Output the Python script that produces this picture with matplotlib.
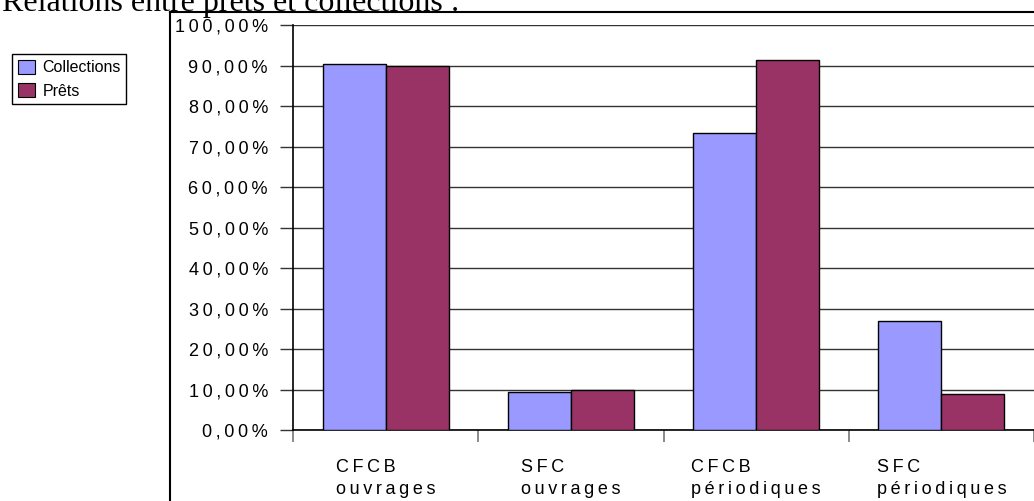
import matplotlib
matplotlib.use('Agg')
import matplotlib.pyplot as plt
from matplotlib.lines import Line2D
from matplotlib.patches import Patch

plt.rcParams['font.family'] = ['Liberation Sans', 'DejaVu Sans']

# Data (percent)
categories = [('CFCB', 'ouvrages'), ('SFC', 'ouvrages'),
              ('CFCB', 'périodiques'), ('SFC', 'périodiques')]
collections = [90.5, 9.5, 73.4, 26.9]
prets = [90.0, 10.0, 91.5, 9.0]
series_names = ['Collections', 'Prêts']
y_ticks = [0, 10, 20, 30, 40, 50, 60, 70, 80, 90, 100]

col_color = '#9999FF'
pret_color = '#993366'

W, H = 1034, 501


# the original labels are drawn letter-spaced
def spaced(s):
    return '\u2009'.join(s)


fig = plt.figure(figsize=(W / 100, H / 100), dpi=100)
ax = fig.add_axes([293 / W, 71 / H, (W - 293) / W, 404.8 / H])

n = len(categories)
bw = 0.34
xs = [i + 0.5 for i in range(n)]
ax.bar([x - bw / 2 for x in xs], collections, bw, color=col_color,
       edgecolor='black', linewidth=1.0, zorder=3)
ax.bar([x + bw / 2 for x in xs], prets, bw, color=pret_color,
       edgecolor='black', linewidth=1.0, zorder=3)

ax.set_xlim(0, n)
ax.set_ylim(0, 100)

ax.set_yticks(y_ticks)
ax.set_yticklabels([spaced(f'{v:.2f}'.replace('.', ',') + '%') for v in y_ticks],
                   fontsize=13)
ax.tick_params(axis='y', length=9.4, width=1.0, color='#333333', pad=8.6)
ax.yaxis.grid(True, color='#333333', linewidth=1.0)
ax.set_axisbelow(True)

ax.set_xticks(xs)
ax.set_xticklabels(['\n'.join(spaced(p) for p in c) for c in categories],
                   fontsize=13, multialignment='left', linespacing=1.4)
ax.set_xticks(range(n + 1), minor=True)
ax.tick_params(axis='x', which='major', length=0, pad=21)
ax.tick_params(axis='x', which='minor', length=8.6, width=1.2, color='#777777')

for side in ['top', 'right']:
    ax.spines[side].set_visible(False)
for side in ['left', 'bottom']:
    ax.spines[side].set_color('black')
    ax.spines[side].set_linewidth(1.2)

# outer frame of the chart area
fig.add_artist(Line2D([170 / W, 170 / W], [0, (H - 12) / H], color='black',
                      linewidth=1.5, transform=fig.transFigure))
fig.add_artist(Line2D([170 / W, 1], [(H - 12) / H, (H - 12) / H], color='black',
                      linewidth=1.5, transform=fig.transFigure))

fig.text(0.002, (H - 10.5) / H, 'Relations entre prêts et collections :',
         family='Liberation Serif', fontsize=23, va='baseline')

handles = [Patch(facecolor=col_color, edgecolor='black', linewidth=0.8),
           Patch(facecolor=pret_color, edgecolor='black', linewidth=0.8)]
leg = fig.legend(handles, series_names, loc='upper left',
                 bbox_to_anchor=(12 / W, 1 - 54 / H), fontsize=11.5,
                 fancybox=False, edgecolor='black', framealpha=1,
                 handlelength=1.1, handleheight=1.0, handletextpad=0.45,
                 borderpad=0.35, labelspacing=0.5, borderaxespad=0)
leg.get_frame().set_linewidth(1.0)

fig.savefig('out.png', dpi=100)
